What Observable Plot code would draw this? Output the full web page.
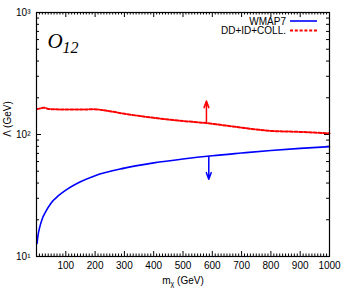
<!DOCTYPE html>
<html><head><meta charset="utf-8">
<script src="https://cdn.jsdelivr.net/npm/d3@7"></script>
<script src="https://cdn.jsdelivr.net/npm/@observablehq/plot@0.6"></script>
<style>body{margin:0;background:#fff;font-family:"Liberation Sans",Arial,sans-serif}</style>
</head><body><div id="chart"></div>
<script>
const mWmap = [2,5,10,20,30,50,75,100,150,200,300,400,500,600,700,800,900,1000];
const lamWmap = [12.8,14.8,17,20.5,23,27.5,31.5,35,41,46,53,58.5,63,67,70.5,74,77,79.5];
const mColl = [2,10,25,40,60,100,150,195,250,300,400,500,580,650,750,800,900,1000];
const lamColl = [162,163,166,162,161,160,160,161,155,148,137,129,124,118,110,107,105,102];
const arrowM = [580, 588];
const arrowFrom = [124, 66];
const arrowTo = [188, 43];
const arrowColor = ["#ff0000", "#0000ff"];
const xMajor = [0,100,200,300,400,500,600,700,800,900,1000];
const xLabels = [100,200,300,400,500,600,700,800,900,1000];
const xMinor = d3.range(0,1001,10).filter(d => d % 100 !== 0);
const yMajor = [10,100,1000];
const yMinor = [20,30,40,50,60,70,80,90,200,300,400,500,600,700,800,900];
const sup = {1:"¹",2:"²",3:"³"};
const seriesNames = ["WMAP7","DD+ID+COLL."];

const W = 346, H = 297, mt = 12, mb = 41, ml = 36, mr = 17;
const ph = H - mt - mb, pw = W - ml - mr;

const wmap = mWmap.map((m,i)=>({m, v: lamWmap[i]}));
const coll = mColl.map((m,i)=>({m, v: lamColl[i]}));
const arrows = arrowM.map((m,i)=>({m, y1: arrowFrom[i], y2: arrowTo[i], c: arrowColor[i]}));

const chart = Plot.plot({
  width: W, height: H,
  marginTop: mt, marginBottom: mb, marginLeft: ml, marginRight: mr,
  style: {fontFamily: "Liberation Sans, Arial, sans-serif", fontSize: "10px", color: "#000", background: "#fff"},
  x: {domain: [0,1000], axis: null},
  y: {type: "log", domain: [10,1000], axis: null},
  marks: [
    Plot.tickX(xMajor, {x: d=>d, insetTop: ph-5, stroke: "#000"}),
    Plot.tickX(xMajor, {x: d=>d, insetBottom: ph-5, stroke: "#000"}),
    Plot.tickX(xMinor, {x: d=>d, insetTop: ph-2.5, stroke: "#000"}),
    Plot.tickX(xMinor, {x: d=>d, insetBottom: ph-2.5, stroke: "#000"}),
    Plot.tickY(yMajor, {y: d=>d, insetRight: pw-5, stroke: "#000"}),
    Plot.tickY(yMajor, {y: d=>d, insetLeft: pw-5, stroke: "#000"}),
    Plot.tickY(yMinor, {y: d=>d, insetRight: pw-3, stroke: "#000"}),
    Plot.tickY(yMinor, {y: d=>d, insetLeft: pw-3, stroke: "#000"}),
    Plot.axisX({ticks: xLabels, tickSize: 0, tickPadding: 5, anchor: "bottom", fontSize: 10, label: null, tickFormat: d=>String(d)}),
    Plot.axisY({ticks: yMajor, tickSize: 0, tickPadding: 6, anchor: "left", fontSize: 10, label: null, tickFormat: d=>"10"+sup[Math.round(Math.log10(d))]}),
    Plot.line(wmap, {x: "m", y: "v", stroke: "#0000ff", strokeWidth: 1.6, curve: "monotone-x"}),
    Plot.line(coll, {x: "m", y: "v", stroke: "#ff0000", strokeWidth: 2, strokeDasharray: "3,1.8", curve: "monotone-x"}),
    Plot.arrow(arrows, {x: "m", y1: "y1", y2: "y2", stroke: "c", strokeWidth: 1.5, headLength: 7, headAngle: 40}),
    Plot.frame({stroke: "#000", strokeWidth: 1.2})
  ]
});
document.getElementById("chart").append(chart);

const svg = d3.select(chart);
svg.append("text").attr("x", 183).attr("y", 284).attr("text-anchor","middle")
  .attr("font-size", 10).attr("fill","#000")
  .call(t => { t.append("tspan").text("m"); t.append("tspan").attr("font-size",7).attr("dy",2).text("χ"); t.append("tspan").attr("dy",-2).text(" (GeV)"); });
svg.append("text").attr("transform","translate(11,119) rotate(-90)").attr("text-anchor","middle")
  .attr("font-size", 10).attr("fill","#000").text("Λ (GeV)");
svg.append("text").attr("x", 63).attr("y", 48).attr("font-family","Liberation Serif, DejaVu Serif, serif")
  .attr("font-style","italic").attr("font-size", 21).attr("fill","#000")
  .call(t => { t.append("tspan").text("O"); t.append("tspan").attr("font-size",16).attr("dy",5).text("12"); });
const leg = [{y: 21, c: "#0000ff", w: 1.6, dash: null}, {y: 30.5, c: "#ff0000", w: 2, dash: "3,1.8"}];
leg.forEach((l,i) => {
  svg.append("text").attr("x", 286).attr("y", l.y).attr("dy","0.35em").attr("text-anchor","end")
    .attr("font-size", 10).attr("fill","#000").text(seriesNames[i]);
  const ln = svg.append("line").attr("x1",290).attr("x2",317).attr("y1",l.y).attr("y2",l.y)
    .attr("stroke", l.c).attr("stroke-width", l.w);
  if (l.dash) ln.attr("stroke-dasharray", l.dash);
});
</script></body></html>
